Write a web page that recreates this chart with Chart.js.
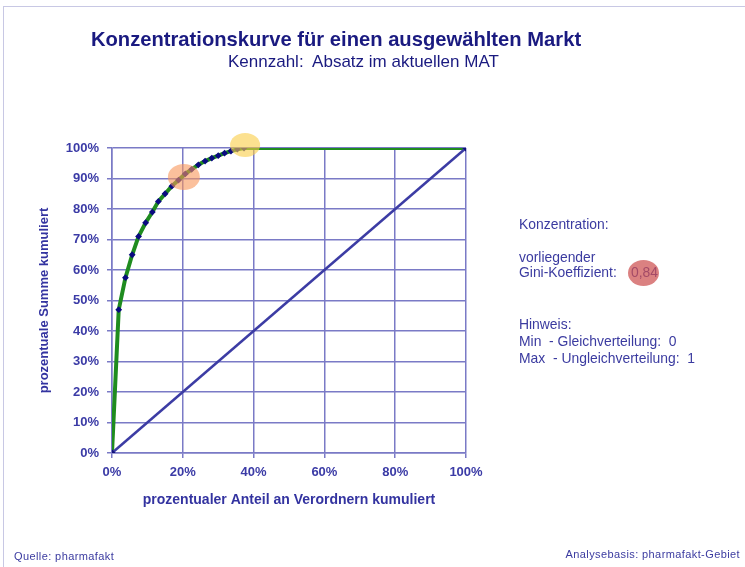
<!DOCTYPE html>
<html>
<head>
<meta charset="utf-8">
<script src="https://cdn.jsdelivr.net/npm/chart.js@4/dist/chart.umd.min.js"></script>
<style>
  body { margin: 0; background: #fff; font-family: "Liberation Sans", Arial, sans-serif; }
  #wrap { position: relative; width: 745px; height: 567px; overflow: hidden; }
  #frame { position: absolute; left: 3px; top: 6px; width: 760px; height: 600px; border: 1px solid #c8c8e4; }
  #box { position: absolute; left: 0; top: 0; width: 745px; height: 567px; }
  .t { position: absolute; color: #1a1a80; white-space: pre; }
  .info { position: absolute; left: 519px; color: #3b3ba0; font-size: 13.9px; white-space: pre; }
  .foot { position: absolute; color: #3b3ba0; font-size: 11px; letter-spacing: 0.4px; white-space: pre; }
  #gini { position: absolute; left: 628px; top: 260px; width: 31px; height: 26px; border-radius: 50%; background: rgba(205, 80, 80, 0.72); }
</style>
</head>
<body>
<div id="wrap">
  <div id="frame"></div>
  <div id="box"><canvas id="c"></canvas></div>
  <div class="t" style="left:0;width:672px;text-align:center;top:28px;font-size:20.2px;font-weight:bold;">Konzentrationskurve für einen ausgewählten Markt</div>
  <div class="t" style="left:228px;top:52px;font-size:17px;">Kennzahl:  Absatz im aktuellen MAT</div>
  <div class="info" style="top:216px;">Konzentration:</div>
  <div class="info" style="top:249px;">vorliegender</div>
  <div class="info" style="top:264px;">Gini-Koeffizient:</div>
  <div class="info" style="left:631px;top:264px;">0,84</div>
  <div id="gini"></div>
  <div class="info" style="top:316px;">Hinweis:</div>
  <div class="info" style="top:333px;">Min  - Gleichverteilung:  0</div>
  <div class="info" style="top:350px;">Max  - Ungleichverteilung:  1</div>
  <div class="foot" style="left:14px;top:550px;">Quelle: pharmafakt</div>
  <div class="foot" style="right:5px;top:548px;">Analysebasis: pharmafakt-Gebiet</div>
</div>
<script>
// kumulierter Anteil an Verordnern (%) und kumulierte Summe (%)
const anteilVerordner = [0, 1.9, 3.8, 5.7, 7.5, 9.5, 11.4, 13.1, 15.0, 16.9, 18.8, 20.7, 22.5, 24.4, 26.3, 28.2, 30.0, 31.8, 33.6, 35.4, 37.3, 100];
const summeKumuliert = [0, 47, 57.5, 65, 71, 75.5, 79, 82.5, 85, 87.5, 89.5, 91.5, 93, 94.5, 95.7, 96.7, 97.5, 98.3, 99, 99.6, 100, 100];
const gleichX = [0, 100];
const gleichY = [0, 100];
const xTicks = [0, 20, 40, 60, 80, 100];
const yTicks = [0, 10, 20, 30, 40, 50, 60, 70, 80, 90, 100];

// markierte Bereiche (Datenwerte)
const markierungen = [
  { x: 20.3, y: 90.5, rx: 16, ry: 13, color: "rgba(248,150,90,0.6)" },
  { x: 37.6, y: 101, rx: 15, ry: 12, color: "rgba(250,205,70,0.6)" },
];

const kurve = anteilVerordner.map((x, i) => ({ x, y: summeKumuliert[i] }));
const diagonale = gleichX.map((x, i) => ({ x, y: gleichY[i] }));

const markPlugin = {
  id: "mark",
  afterDatasetsDraw(chart) {
    const { ctx, scales } = chart;
    ctx.save();
    markierungen.forEach(m => {
      ctx.beginPath();
      ctx.ellipse(scales.x.getPixelForValue(m.x), scales.y.getPixelForValue(m.y), m.rx, m.ry, 0, 0, Math.PI * 2);
      ctx.fillStyle = m.color;
      ctx.fill();
    });
    ctx.restore();
  }
};

const blau = "#3b3ba6";
const gridFarbe = "#7a7ac6";
const tickFont = { family: "Liberation Sans", size: 13, weight: "bold" };

new Chart(document.getElementById("c"), {
  type: "scatter",
  data: {
    datasets: [
      {
        data: diagonale,
        showLine: true,
        borderColor: "#3c3ca4",
        borderWidth: 2.5,
        pointStyle: "rectRot",
        pointRadius: 3.5,
        pointBackgroundColor: "#10107a",
        pointBorderWidth: 0,
        order: 1,
      },
      {
        data: kurve,
        showLine: true,
        borderColor: "#1f8c1f",
        borderWidth: 4,
        pointStyle: "rectRot",
        pointRadius: 3.4,
        pointBackgroundColor: "#0a0a80",
        pointBorderWidth: 0,
        order: 2,
      },
    ],
  },
  options: {
    responsive: true,
    maintainAspectRatio: false,
    animation: false,
    layout: { padding: { left: 37, top: 148, right: 279, bottom: 57 } },
    plugins: { legend: { display: false }, tooltip: { enabled: false } },
    scales: {
      x: {
        min: 0, max: 100,
        afterFit: s => { s.height = 57; },
        afterBuildTicks: s => { s.ticks = xTicks.map(v => ({ value: v })); },
        grid: { color: gridFarbe, lineWidth: 1.5, tickLength: 5 },
        border: { color: gridFarbe, width: 1.5 },
        ticks: { color: blau, padding: 7, font: tickFont, callback: v => v + "%", maxRotation: 0 },
        title: { display: true, text: "prozentualer Anteil an Verordnern kumuliert", color: "#3333a0", font: { family: "Liberation Sans", size: 14, weight: "bold" }, padding: { top: 0, bottom: 1 } },
      },
      y: {
        min: 0, max: 100,
        afterFit: s => { s.width = 75; },
        afterBuildTicks: s => { s.ticks = yTicks.map(v => ({ value: v })); },
        grid: { color: gridFarbe, lineWidth: 1.5, tickLength: 5 },
        border: { color: gridFarbe, width: 1.5 },
        ticks: { color: blau, padding: 8, font: tickFont, callback: v => v + "%" },
        title: { display: true, text: "prozentuale Summe kumuliert", color: "#3333a0", font: { family: "Liberation Sans", size: 13, weight: "bold" }, padding: { top: 0, bottom: 0 } },
      },
    },
  },
  plugins: [markPlugin],
});
</script>
</body>
</html>
